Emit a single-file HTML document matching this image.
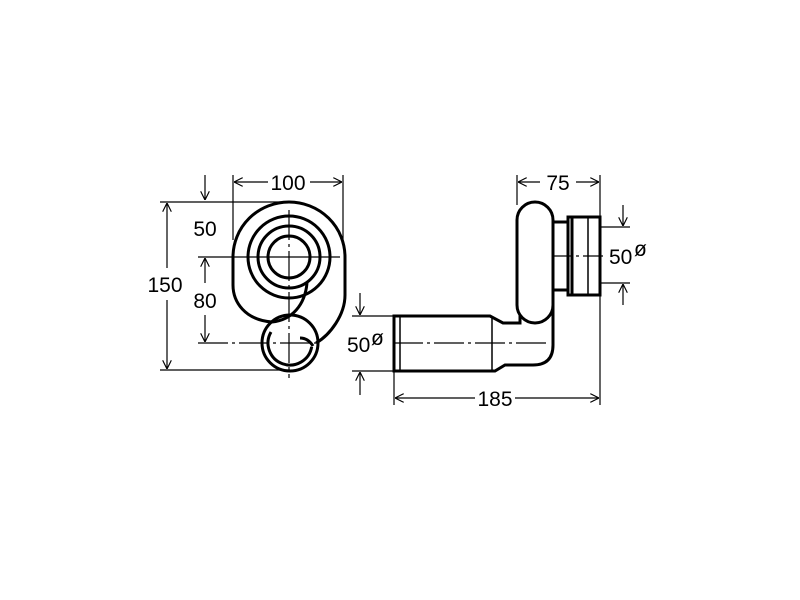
<!DOCTYPE html>
<html><head><style>
body{margin:0;background:#fff;}
svg{display:block}
text{font-family:"Liberation Sans",Arial,sans-serif;font-size:21px;fill:#000;}
</style></head><body>
<svg width="800" height="600" viewBox="0 0 800 600" xmlns="http://www.w3.org/2000/svg">
<defs>
<marker id="a" viewBox="0 0 10 10" refX="10" refY="5" markerWidth="9" markerHeight="9" orient="auto-start-reverse" markerUnits="userSpaceOnUse"><path d="M0,0 L10,5 L0,10" fill="none" stroke="#000" stroke-width="1.3"/></marker>
</defs>
<g stroke="#000" fill="none" stroke-width="1.2">
<line x1="233" y1="175" x2="233" y2="240"/>
<line x1="343" y1="175" x2="343" y2="245"/>
<line x1="234" y1="182" x2="268" y2="182" marker-start="url(#a)"/>
<line x1="310" y1="182" x2="342" y2="182" marker-end="url(#a)"/>
<line x1="160" y1="202" x2="290" y2="202"/>
<line x1="160" y1="370" x2="290" y2="370"/>
<line x1="167" y1="203" x2="167" y2="268" marker-start="url(#a)"/>
<line x1="167" y1="300" x2="167" y2="369" marker-end="url(#a)"/>
<line x1="205" y1="175" x2="205" y2="200" marker-end="url(#a)"/>
<line x1="198" y1="257" x2="340" y2="257"/>
<line x1="198" y1="343" x2="320" y2="343" stroke-dasharray="30,4,3,4"/>
<line x1="205" y1="258" x2="205" y2="283" marker-start="url(#a)"/>
<line x1="205" y1="315" x2="205" y2="342" marker-end="url(#a)"/>
<line x1="289" y1="210" x2="289" y2="378" stroke-dasharray="30,4,3,4"/>
</g>
<g stroke="#000" fill="none" stroke-width="3">
<path d="M307,283 C305,305 292,320 272,322 C245,320 233,302 233,285 L233,257 A56,55 0 0 1 345,257 L345,295 C345,315 330,335 316,343"/>
<circle cx="289" cy="257" r="41"/>
<circle cx="289" cy="257" r="31"/>
<circle cx="289" cy="257" r="21"/>
<circle cx="290" cy="343" r="28"/>
<path d="M271,332 A22,22 0 1 0 311.7,346.8"/>
<path d="M300,338 Q308,338 313,346"/>
</g>
<text x="288" y="190" text-anchor="middle">100</text>
<text x="165" y="292" text-anchor="middle">150</text>
<text x="205" y="236" text-anchor="middle">50</text>
<text x="205" y="308" text-anchor="middle">80</text>

<g stroke="#000" fill="none" stroke-width="1.2">
<line x1="517" y1="175" x2="517" y2="205"/>
<line x1="600" y1="175" x2="600" y2="405"/>
<line x1="518" y1="182" x2="540" y2="182" marker-start="url(#a)"/>
<line x1="576" y1="182" x2="599" y2="182" marker-end="url(#a)"/>
<line x1="394" y1="320" x2="394" y2="405"/>
<line x1="395" y1="398" x2="475" y2="398" marker-start="url(#a)"/>
<line x1="515" y1="398" x2="599" y2="398" marker-end="url(#a)"/>
<line x1="600" y1="227" x2="630" y2="227"/>
<line x1="600" y1="283" x2="630" y2="283"/>
<line x1="623" y1="205" x2="623" y2="226" marker-end="url(#a)"/>
<line x1="623" y1="305" x2="623" y2="284" marker-end="url(#a)"/>
<line x1="352" y1="316" x2="394" y2="316"/>
<line x1="352" y1="371" x2="394" y2="371"/>
<line x1="360" y1="293" x2="360" y2="315" marker-end="url(#a)"/>
<line x1="360" y1="395" x2="360" y2="372" marker-end="url(#a)"/>
</g>
<g stroke="#000" fill="#fff" stroke-width="3">
<path d="M394,316 L490,316 L503,323 L520,323 L520,300 L553,300 L553,345 Q553,365 533,365 L505,365 L495,371 L394,371 Z"/>
<rect x="517" y="202" width="36" height="121" rx="18"/>
<rect x="553" y="222" width="15" height="68"/>
<rect x="568" y="217" width="32" height="78"/>
<line x1="572" y1="218" x2="572" y2="294"/>
<line x1="588" y1="218" x2="588" y2="294" stroke-width="1.5"/>
<line x1="400" y1="317" x2="400" y2="370" stroke-width="1.5"/>
<line x1="492" y1="317" x2="492" y2="370" stroke-width="1.5"/>
</g>
<g stroke="#000" fill="none" stroke-width="1.2">
<line x1="393" y1="343" x2="548" y2="343" stroke-dasharray="30,4,3,4"/>
<line x1="552" y1="256" x2="606" y2="256" stroke-dasharray="20,4,3,4"/>
</g>
<text x="558" y="190" text-anchor="middle">75</text>
<text x="495" y="406" text-anchor="middle">185</text>
<text x="609" y="264">50</text>
<text x="634" y="256" font-size="17">ø</text>
<text x="347" y="352">50</text>
<text x="371" y="345" font-size="17">ø</text>
</svg>
</body></html>
